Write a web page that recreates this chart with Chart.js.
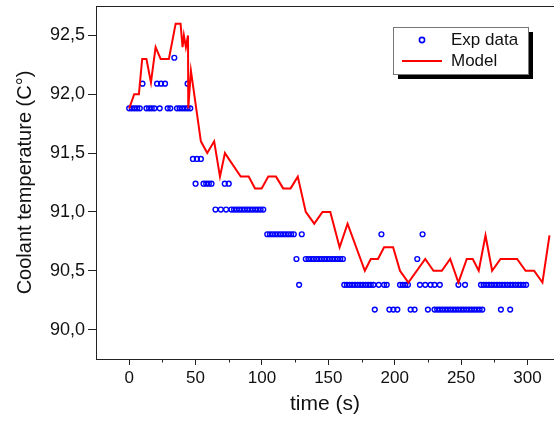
<!DOCTYPE html>
<html lang="en">
<head>
<meta charset="UTF-8" />
<title>Coolant temperature</title>
<script src="https://cdn.jsdelivr.net/npm/chart.js"></script>
<style>
  html, body { margin: 0; padding: 0; background: #fff; }
  #wrap { width: 554px; height: 421px; }
</style>
</head>
<body>
<div id="wrap"><canvas id="myChart"></canvas></div>
<script>
// measured levels (sensor steps) and the times each level was logged
const expLevels = [92.31, 92.09, 91.88, 91.45, 91.24, 91.02, 90.81, 90.6, 90.38, 90.17];
const expTimes = [
  [34],
  [10, 21, 24, 27, 44],
  [0, 2, 4, 6, 8, 13, 15, 17, 19, 23, 29, 31, 36, 38, 40, 42, 44, 46],
  [48, 51, 54],
  [50, 56, 58, 60, 62, 72, 75],
  [65, 69, 73, 77, 79, 81, 83, 85, 87, 89, 91, 93, 95, 97, 99, 101],
  [104, 106, 108, 110, 112, 114, 116, 118, 120, 122, 124, 130, 190, 221],
  [126, 133, 135, 137, 139, 141, 143, 145, 147, 149, 151, 153, 155, 157, 159, 161, 217],
  [128, 162, 164, 166, 168, 170, 172, 174, 176, 178, 180, 182, 184, 188, 192, 194,
   204, 206, 208, 210, 219, 223, 227, 230, 234, 248, 253,
   265, 267, 269, 271, 273, 275, 277, 279, 281, 283, 285, 287, 289, 291, 293, 295, 297, 299],
  [185, 196, 199, 202, 212, 215, 225, 230, 232, 234, 236, 238, 240, 242, 244, 246, 248,
   250, 252, 254, 256, 258, 260, 262, 264, 266, 280, 287]
];

// model curve
const modelTime = [0, 3.8, 7.3, 9.8, 13, 16.4, 19.9, 23.7, 29.9, 35, 38.7, 40.2, 41.2, 42.7, 44.3, 44.5,
  46.5, 54, 58.8, 64, 68.4, 72.1, 84, 90, 94.8, 99.8, 104.8, 110.6, 116, 121.6, 127, 133,
  139.4, 145.6, 151.5, 158.5, 164.5, 177.5, 182, 187.4, 192, 198.8, 204, 210.3, 223, 229.2,
  235.5, 241.8, 248, 254.3, 258.8, 263.3, 268.4, 273.4, 279.7, 292.2, 298.6, 305, 311.3, 316.6];
const modelTemp = [91.88, 92.0, 92.0, 92.3, 92.3, 92.1, 92.4, 92.3, 92.3, 92.6, 92.6, 92.4, 92.5, 92.4, 92.5, 91.88,
  92.2, 91.6, 91.5, 91.6, 91.3, 91.5, 91.3, 91.3, 91.2, 91.2, 91.3, 91.3, 91.2, 91.2, 91.3, 91.0,
  90.9, 91.0, 91.0, 90.7, 90.9, 90.5, 90.6, 90.6, 90.7, 90.7, 90.5, 90.4, 90.6, 90.5,
  90.5, 90.6, 90.4, 90.6, 90.6, 90.5, 90.8, 90.5, 90.6, 90.6, 90.5, 90.5, 90.4, 90.8];

const xTickValues = [0, 50, 100, 150, 200, 250, 300];
const xMinorValues = [25, 75, 125, 175, 225, 275];
const yTickValues = [90, 90.5, 91, 91.5, 92, 92.5];

const FONT = "'Liberation Sans', Arial, sans-serif";

const expPoints = [];
expLevels.forEach((lvl, i) => {
  expTimes[i].forEach((t) => expPoints.push({ x: t, y: lvl }));
});
const modelPoints = modelTime.map((t, i) => ({ x: t, y: modelTemp[i] }));

// top frame line, minor x ticks and the boxed legend with its shadow
const framePlugin = {
  id: "framePlugin",
  afterDraw(chart) {
    const ctx = chart.ctx;
    const { left, top, right, bottom } = chart.chartArea;
    const xs = chart.scales.x;
    ctx.save();
    ctx.strokeStyle = "#222";
    ctx.lineWidth = 1;
    ctx.beginPath();
    ctx.moveTo(left, top + 0.5);
    ctx.lineTo(right, top + 0.5);
    ctx.stroke();

    ctx.beginPath();
    xMinorValues.forEach((v) => {
      const px = Math.round(xs.getPixelForValue(v)) + 0.5;
      ctx.moveTo(px, bottom);
      ctx.lineTo(px, bottom + 3.5);
    });
    ctx.stroke();

    const bx = right - 161, by = top + 21, bw = 135, bh = 47;
    ctx.fillStyle = "#000";
    ctx.fillRect(bx + 5, by + 5, bw, bh);
    ctx.fillStyle = "#fff";
    ctx.fillRect(bx, by, bw, bh);
    ctx.strokeStyle = "#777";
    ctx.strokeRect(bx + 0.5, by + 0.5, bw, bh);

    ctx.strokeStyle = "#0000ff";
    ctx.lineWidth = 1.6;
    ctx.beginPath();
    ctx.arc(bx + 29, by + 13, 2.6, 0, Math.PI * 2);
    ctx.stroke();

    ctx.strokeStyle = "#ff0000";
    ctx.lineWidth = 2;
    ctx.beginPath();
    ctx.moveTo(bx + 9, by + 34);
    ctx.lineTo(bx + 49, by + 34);
    ctx.stroke();

    ctx.fillStyle = "#111";
    ctx.font = "17px " + FONT;
    ctx.textBaseline = "middle";
    ctx.fillText("Exp data", bx + 58, by + 13);
    ctx.fillText("Model", bx + 58, by + 34);
    ctx.restore();
  },
};

const config = {
  type: "scatter",
  data: {
    datasets: [
      {
        label: "Model",
        data: modelPoints,
        showLine: true,
        borderColor: "#ff0000",
        borderWidth: 2,
        pointRadius: 0,
        tension: 0,
        order: 0,
      },
      {
        label: "Exp data",
        data: expPoints,
        borderColor: "#0000ff",
        backgroundColor: "rgba(0,0,0,0)",
        pointRadius: 2.4,
        borderWidth: 1.4,
        order: 1,
      },
    ],
  },
  options: {
    responsive: true,
    maintainAspectRatio: false,
    animation: false,
    layout: { autoPadding: false, padding: { top: 6, right: 0, left: 0, bottom: 0 } },
    plugins: { legend: { display: false }, tooltip: { enabled: false } },
    scales: {
      x: {
        type: "linear",
        min: -25,
        max: 320,
        afterBuildTicks: (s) => { s.ticks = xTickValues.map((v) => ({ value: v })); },
        afterFit: (s) => {
          s.height = 62;
          s.paddingLeft = 0;
          s.paddingRight = 0;
        },
        grid: { drawOnChartArea: false, drawTicks: true, tickLength: 6, tickColor: "#222" },
        border: { color: "#222", width: 1 },
        ticks: { color: "#111", font: { family: FONT, size: 17 }, padding: 3, maxRotation: 0 },
        title: {
          display: true,
          text: "time (s)",
          color: "#111",
          font: { family: FONT, size: 21 },
          padding: { top: 0, bottom: 4 },
        },
      },
      y: {
        type: "linear",
        min: 89.75,
        max: 92.75,
        afterBuildTicks: (s) => { s.ticks = yTickValues.map((v) => ({ value: v })); },
        afterFit: (s) => {
          s.width = 96;
          s.paddingTop = 0;
          s.paddingBottom = 0;
        },
        grid: { drawOnChartArea: false, drawTicks: true, tickLength: 8, tickColor: "#222" },
        border: { color: "#222", width: 1 },
        ticks: {
          color: "#111",
          font: { family: FONT, size: 18 },
          padding: 3,
          callback: (v) => v.toFixed(1).replace(".", ","),
        },
        title: {
          display: true,
          text: "Coolant temperature (C°)",
          color: "#111",
          font: { family: FONT, size: 20 },
          padding: { top: 13, bottom: 0 },
        },
      },
    },
  },
  plugins: [framePlugin],
};

new Chart(document.getElementById("myChart"), config);
</script>
</body>
</html>
